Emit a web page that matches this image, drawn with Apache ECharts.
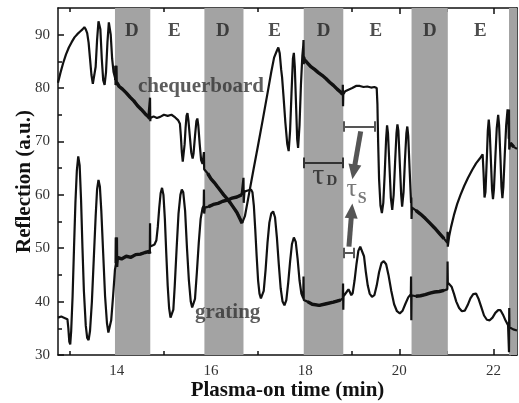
<!DOCTYPE html>
<html><head><meta charset="utf-8">
<script src="https://cdn.jsdelivr.net/npm/echarts@6/dist/echarts.min.js"></script>
<style>html,body{margin:0;padding:0;background:#fff}#c{width:519px;height:403px}</style>
</head><body><div id="c"></div>
<script>
// ---- data ----
const timeMin = 12.75, timeMax = 22.5;
const reflMin = 30, reflMax = 95;
const xMajorTicks = [14, 16, 18, 20, 22];
const xMinorTicks = [13, 15, 17, 19, 21];
const yMajorTicks = [30, 40, 50, 60, 70, 80, 90];
const yMinorTicks = [35, 45, 55, 65, 75, 85];
const dBands = [[13.96, 14.71], [15.86, 16.69], [17.97, 18.81], [20.26, 21.03], [22.33, 22.5]];
const phaseNames = ['D', 'E', 'D', 'E', 'D', 'E', 'D', 'E'];
const phaseTimes = [14.32, 15.22, 16.25, 17.35, 18.39, 19.5, 20.65, 21.72];
const phaseLevel = 90.7;

const chequerboard = [[12.75,81.0],[12.80,82.8],[12.86,84.7],[12.92,86.3],[12.98,87.6],[13.04,88.6],[13.10,89.5],[13.16,90.1],[13.22,90.6],[13.27,91.0],[13.31,91.4],[13.34,91.0],[13.37,90.3],[13.40,88.5],[13.43,85.5],[13.46,82.5],[13.49,80.8],[13.52,80.8],[13.55,84],[13.58,89],[13.61,92.5],[13.63,92.8],[13.65,91],[13.68,85.5],[13.71,81.5],[13.74,80.6],[13.77,83],[13.80,88.5],[13.83,92.3],[13.85,92.5],[13.87,90],[13.90,85.5],[13.93,83.0],[13.96,82.0],[13.975,81.5],[13.98,84.2],[13.985,80.6],[14.0,81.0],[14.05,80.3],[14.12,79.8],[14.2,79.1],[14.28,78.3],[14.36,77.6],[14.44,76.7],[14.52,76.0],[14.60,75.2],[14.67,74.6],[14.70,74.3],[14.705,78.2],[14.71,73.8],[14.715,74.4],[14.78,74.7],[14.85,74.4],[14.92,74.6],[15.0,75.0],[15.08,74.8],[15.16,75.0],[15.24,74.5],[15.30,74.0],[15.34,73.3],[15.36,71],[15.38,68],[15.40,66.2],[15.42,66.5],[15.44,69.5],[15.46,72.5],[15.48,74.8],[15.50,75.3],[15.52,74],[15.55,71],[15.58,68],[15.61,66.8],[15.63,67.8],[15.66,71],[15.69,73.8],[15.71,74.3],[15.73,73],[15.76,69.5],[15.79,66.5],[15.82,65.8],[15.845,65.6],[15.85,68.0],[15.855,64.8],[15.87,65.0],[15.93,64.0],[16.0,63.0],[16.07,62.3],[16.13,61.6],[16.20,60.8],[16.27,60.0],[16.34,59.3],[16.41,58.5],[16.48,57.6],[16.55,56.7],[16.61,55.6],[16.66,54.7],[16.685,54.4],[16.72,56.0],[16.80,59.8],[16.90,64.6],[17.00,69.3],[17.10,74.1],[17.20,79.0],[17.28,83.0],[17.34,85.7],[17.39,86.8],[17.43,87.6],[17.46,86.5],[17.49,83.5],[17.51,82.0],[17.54,78.5],[17.58,73.5],[17.62,69.5],[17.65,68.2],[17.68,72],[17.71,79],[17.74,85.5],[17.76,86.6],[17.78,84],[17.81,76],[17.83,70.5],[17.85,68.8],[17.88,73],[17.91,80.5],[17.94,86],[17.96,88.0],[17.965,89.0],[17.97,84.5],[17.98,85.8],[18.0,85.2],[18.06,84.6],[18.12,84.0],[18.2,83.5],[18.28,82.9],[18.36,82.4],[18.44,81.8],[18.52,81.1],[18.60,80.5],[18.68,79.8],[18.76,79.2],[18.795,78.8],[18.80,80.6],[18.805,76.6],[18.81,78.8],[18.85,79.4],[18.92,79.7],[19.0,80.0],[19.08,80.4],[19.16,80.4],[19.24,80.2],[19.32,80.3],[19.40,80.1],[19.47,80.2],[19.52,80.0],[19.535,77],[19.55,70],[19.57,63],[19.60,58],[19.63,56.6],[19.66,58.5],[19.69,64],[19.72,70.5],[19.74,73.0],[19.76,71.5],[19.79,65.5],[19.82,59.5],[19.85,57.2],[19.88,60],[19.91,66],[19.94,71.5],[19.96,73.2],[19.98,72],[20.01,66],[20.04,60],[20.06,57.8],[20.09,60.5],[20.12,66.5],[20.15,71.5],[20.17,72.8],[20.19,71],[20.22,64.5],[20.25,58.5],[20.255,59.5],[20.26,55.5],[20.27,57.6],[20.35,57.1],[20.45,56.4],[20.55,55.6],[20.65,54.7],[20.75,53.8],[20.85,52.8],[20.95,51.8],[21.02,51.0],[21.025,53.1],[21.03,50.3],[21.06,52.3],[21.10,54.0],[21.16,56.2],[21.23,58.3],[21.30,60.0],[21.38,61.7],[21.46,63.2],[21.55,64.7],[21.63,65.9],[21.71,66.8],[21.77,67.6],[21.79,64],[21.81,59.5],[21.83,60.5],[21.86,67],[21.88,72],[21.90,74.1],[21.92,72],[21.95,65.5],[21.97,61],[21.99,59.2],[22.01,61],[22.04,67],[22.07,72.5],[22.10,75.0],[22.12,73],[22.15,66.5],[22.17,61.5],[22.19,59.4],[22.21,61.5],[22.24,67.5],[22.27,73],[22.30,76.0],[22.32,73.5],[22.325,70.5],[22.33,76],[22.335,68.5],[22.36,69.7],[22.43,69.0],[22.5,68.6]];

const grating = [[12.75,37.0],[12.82,37.2],[12.9,36.9],[12.95,36.7],[12.97,35.0],[12.99,32.5],[13.01,32.0],[13.03,34.5],[13.06,41],[13.09,50],[13.12,58.5],[13.15,64.5],[13.18,67.2],[13.21,65.5],[13.24,59],[13.27,50],[13.30,42],[13.34,35.5],[13.37,33.2],[13.40,32.8],[13.43,34.5],[13.47,40],[13.51,48],[13.55,56],[13.58,61],[13.61,62.8],[13.64,61.5],[13.67,57],[13.71,49],[13.75,41],[13.79,36],[13.82,34.2],[13.85,34.2],[13.88,36.5],[13.92,41],[13.96,46],[13.985,47.2],[13.99,52],[13.995,46.5],[14.01,48.3],[14.1,48.0],[14.2,48.5],[14.3,48.3],[14.4,48.8],[14.5,48.9],[14.6,49.2],[14.69,49.4],[14.70,49.0],[14.705,54.7],[14.71,50.3],[14.75,50.5],[14.80,50.7],[14.84,51.5],[14.87,54],[14.90,57.5],[14.93,60.3],[14.96,61.3],[14.99,60],[15.02,55.5],[15.05,49],[15.08,43],[15.11,38.8],[15.14,37.0],[15.17,36.9],[15.20,38.5],[15.23,43],[15.27,50],[15.31,56.5],[15.35,60],[15.38,61.0],[15.41,60.5],[15.45,57],[15.49,50],[15.53,44],[15.57,40],[15.60,38.9],[15.63,38.8],[15.66,40.5],[15.70,45.5],[15.74,51],[15.78,55.5],[15.82,57.5],[15.845,58],[15.85,61],[15.855,56.5],[15.87,57.6],[15.95,57.8],[16.05,58.2],[16.15,58.4],[16.25,58.8],[16.35,59.0],[16.45,59.4],[16.55,59.6],[16.65,60.0],[16.685,60.3],[16.69,63.2],[16.695,58.5],[16.71,60.6],[16.78,60.8],[16.85,61.0],[16.88,60.5],[16.91,58],[16.94,53.5],[16.97,48.5],[17.00,44],[17.03,41.5],[17.06,40.6],[17.09,40.6],[17.12,42],[17.16,46],[17.20,51],[17.24,54.8],[17.28,56.5],[17.32,56.9],[17.36,55.8],[17.40,52],[17.44,47],[17.48,42.5],[17.52,40],[17.56,39.3],[17.60,40.3],[17.64,43.5],[17.68,47.5],[17.72,50.8],[17.76,52.0],[17.80,51.2],[17.84,48],[17.88,44],[17.92,41.5],[17.96,40.6],[17.965,44.7],[17.97,40.3],[18.05,40.0],[18.15,39.5],[18.3,39.3],[18.45,39.6],[18.6,39.9],[18.75,40.3],[18.80,40.6],[18.805,43.4],[18.81,38.5],[18.815,41.0],[18.84,41.3],[18.88,41.8],[18.92,42.3],[18.95,41.8],[18.98,41.2],[19.01,41.6],[19.05,44],[19.09,47],[19.13,49.5],[19.17,50.3],[19.21,50.3],[19.25,48.5],[19.29,45.5],[19.33,43],[19.37,41.5],[19.42,40.9],[19.47,41.2],[19.52,43],[19.57,45.5],[19.62,47.2],[19.67,47.6],[19.72,47],[19.77,45],[19.83,42],[19.89,39.5],[19.95,38.2],[20.01,37.8],[20.07,38.3],[20.13,39.6],[20.19,40.8],[20.245,41.4],[20.25,44.7],[20.255,36.5],[20.26,41.2],[20.35,41.0],[20.45,41.1],[20.55,41.3],[20.65,41.6],[20.75,41.8],[20.85,41.9],[20.95,42.1],[21.02,42.3],[21.025,47.5],[21.03,43.6],[21.07,43.3],[21.11,42.8],[21.16,41.5],[21.21,40.0],[21.27,38.8],[21.33,38.2],[21.39,38.3],[21.45,39.3],[21.51,40.6],[21.57,41.4],[21.63,41.5],[21.68,40.6],[21.74,39.0],[21.80,37.4],[21.86,36.6],[21.92,36.5],[21.98,37.0],[22.04,37.9],[22.10,38.4],[22.15,38.4],[22.20,37.6],[22.26,36.4],[22.31,35.6],[22.325,35.4],[22.33,30.5],[22.335,38.8],[22.34,35.2],[22.42,34.8],[22.5,34.6]];

// annotations (data coordinates)
const curveNames = ['chequerboard', 'grating'];
const curveLabelPos = [[14.45, 80.2], [15.66, 38.0]];
const tauDBracket = [17.96, 18.79, 66.0];
const tauSBracket = [18.81, 19.47, 72.8];
const tauSSmallBracket = [18.81, 19.03, 49.1];
const tauSArrows = [[[19.18, 71.9], [19.03, 64.3]], [[18.93, 50.3], [18.99, 57.0]]];
const tauDLabel = [[18.28, 63.6], [18.57, 62.6]];
const tauSLabel = [[18.99, 61.0], [19.21, 59.3]];

// ---- chart ----
const serif = 'Liberation Serif, Times New Roman, serif';
const chart = echarts.init(document.getElementById('c'), null, {renderer: 'canvas'});

// portions of a curve that lie inside the D (dark) bands, drawn a little heavier (noisier signal)
function inBands(curve) {
  const out = [];
  dBands.forEach(b => {
    curve.forEach(p => { if (p[0] > b[0] + 0.01 && p[0] < b[1] - 0.01) out.push(p); });
    out.push([b[1], null]);
  });
  return out;
}

function xAx(pos, ticks, len, showLine, labels, name) {
  return {
    type: 'value', position: pos, min: timeMin, max: timeMax,
    axisLine: {show: showLine, onZero: false, lineStyle: {color: '#111', width: 1.5}},
    axisTick: {show: true, inside: true, length: len, customValues: ticks, lineStyle: {color: '#111', width: 1.5}},
    axisLabel: labels ? {show: true, customValues: ticks, fontFamily: serif, fontSize: 15, color: '#333', margin: 9} : {show: false},
    splitLine: {show: false},
    name: name || '', nameLocation: 'middle', nameGap: 25, nameMoveOverlap: false,
    nameTextStyle: {fontFamily: serif, fontWeight: 'bold', fontSize: 21, color: '#111'}
  };
}
function yAx(pos, ticks, len, showLine, labels, name) {
  return {
    type: 'value', position: pos, min: reflMin, max: reflMax,
    axisLine: {show: showLine, onZero: false, lineStyle: {color: '#111', width: 1.5}},
    axisTick: {show: true, inside: true, length: len, customValues: ticks, lineStyle: {color: '#111', width: 1.5}},
    axisLabel: labels ? {show: true, customValues: ticks, fontFamily: serif, fontSize: 15, color: '#333', margin: 8} : {show: false},
    splitLine: {show: false},
    name: name || '', nameLocation: 'middle', nameGap: 23, nameRotate: 90, nameMoveOverlap: false,
    nameTextStyle: {fontFamily: serif, fontWeight: 'bold', fontSize: 21, color: '#111'}
  };
}

function bracketLines(b, cap) {
  return [
    [{coord: [b[0], b[2]]}, {coord: [b[1], b[2]]}],
    [{coord: [b[0], b[2] - cap]}, {coord: [b[0], b[2] + cap]}],
    [{coord: [b[1], b[2] - cap]}, {coord: [b[1], b[2] + cap]}]
  ];
}

const textItems = [];
phaseNames.forEach((n, i) => textItems.push({value: [phaseTimes[i], phaseLevel], label: {formatter: n, fontSize: 19, fontWeight: 'bold', color: '#222'}}));
curveNames.forEach((n, i) => textItems.push({value: curveLabelPos[i], label: {formatter: n, fontSize: 21, fontWeight: 'bold', color: '#333', align: 'left'}}));
textItems.push({value: tauDLabel[0], label: {formatter: 'τ', fontSize: 30, color: '#222'}});
textItems.push({value: tauDLabel[1], label: {formatter: 'D', fontSize: 15, fontWeight: 'bold', color: '#222'}});
textItems.push({value: tauSLabel[0], label: {formatter: 'τ', fontSize: 26, color: '#555'}});
textItems.push({value: tauSLabel[1], label: {formatter: 'S', fontSize: 16, fontWeight: 'bold', color: '#555'}});

const curveLine = {color: '#111', width: 2.2};
const option = {
  animation: false,
  backgroundColor: '#fff',
  grid: {left: 58, right: 2, top: 8, bottom: 48, containLabel: false, outerBoundsMode: 'none'},
  xAxis: [
    xAx('bottom', xMajorTicks, 6, true, true, 'Plasma-on time (min)'),
    xAx('bottom', xMinorTicks, 4, false, false),
    xAx('top', xMajorTicks, 6, true, false),
    xAx('top', xMinorTicks, 4, false, false)
  ],
  yAxis: [
    yAx('left', yMajorTicks, 6, true, true, 'Reflection (a.u.)'),
    yAx('left', yMinorTicks, 4, false, false),
    yAx('right', yMajorTicks, 6, true, false),
    yAx('right', yMinorTicks, 4, false, false)
  ],
  series: [
    {
      type: 'line', data: [], z: 1, silent: true,
      markArea: {
        silent: true,
        itemStyle: {color: '#a3a3a3'},
        data: dBands.map(b => [{xAxis: b[0]}, {xAxis: b[1]}])
      }
    },
    {type: 'line', name: 'chequerboard', data: chequerboard, z: 3, showSymbol: false, symbol: 'none', lineStyle: curveLine, smooth: false},
    {type: 'line', name: 'grating', data: grating, z: 3, showSymbol: false, symbol: 'none', lineStyle: curveLine, smooth: false},
    {type: 'line', data: inBands(chequerboard), z: 3, showSymbol: false, symbol: 'none', connectNulls: false, lineStyle: {color: '#111', width: 3.4}, silent: true},
    {type: 'line', data: inBands(grating), z: 3, showSymbol: false, symbol: 'none', connectNulls: false, lineStyle: {color: '#111', width: 3.4}, silent: true},
    {
      type: 'line', data: [], z: 4, silent: true,
      markLine: {
        silent: true, symbol: 'none', animation: false,
        label: {show: false},
        lineStyle: {color: '#333', width: 2, type: 'solid'},
        data: bracketLines(tauDBracket, 1.0)
      }
    },
    {
      type: 'line', data: [], z: 4, silent: true,
      markLine: {
        silent: true, symbol: 'none', animation: false,
        label: {show: false},
        lineStyle: {color: '#555', width: 2, type: 'solid'},
        data: bracketLines(tauSBracket, 1.0).concat(bracketLines(tauSSmallBracket, 1.0))
      }
    },
    {
      type: 'line', data: [], z: 4, silent: true,
      markLine: {
        silent: true, symbol: ['none', 'triangle'], symbolSize: [13, 15], animation: false,
        label: {show: false},
        lineStyle: {color: '#555', width: 5, type: 'solid'},
        itemStyle: {color: '#555'},
        data: tauSArrows.map(a => [{coord: a[0]}, {coord: a[1]}])
      }
    },
    {
      type: 'scatter', data: textItems, z: 5, silent: true,
      symbolSize: 1, itemStyle: {color: 'rgba(0,0,0,0)'},
      label: {show: true, position: 'inside', fontFamily: serif, align: 'center', verticalAlign: 'middle'}
    }
  ]
};
chart.setOption(option);
</script>
</body></html>
